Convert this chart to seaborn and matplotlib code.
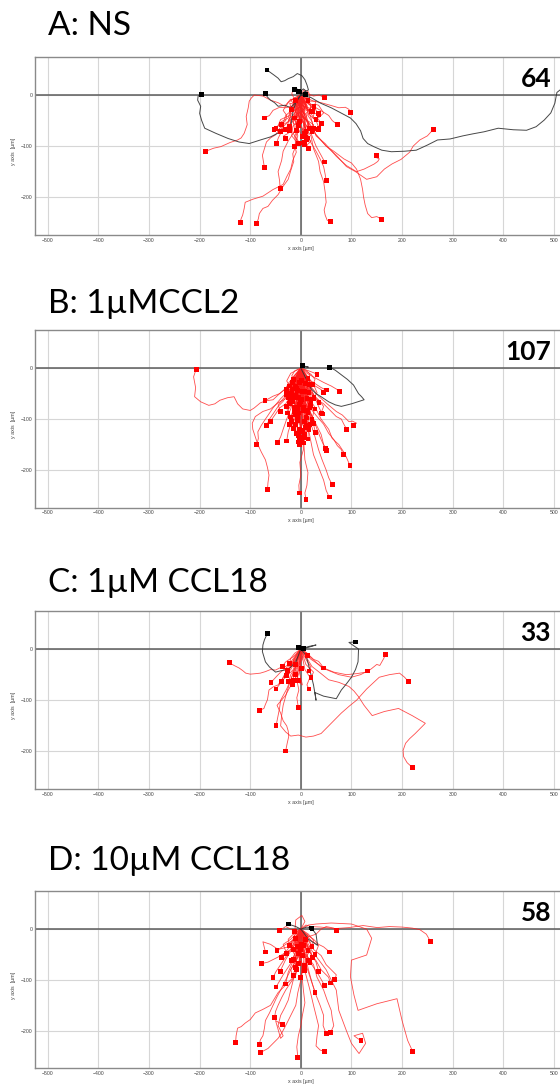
import matplotlib
matplotlib.use("Agg")
import matplotlib.pyplot as plt
import seaborn as sns
import pandas as pd

# ---------------------------------------------------------------- settings
FIG_W, FIG_H, DPI = 560, 1086, 100

panel_titles = ["A: NS", "B: 1µMCCL2", "C: 1µM CCL18", "D: 10µM CCL18"]
x_ticks = [-500, -400, -300, -200, -100, 0, 100, 200, 300, 400, 500]
y_ticks = [-200, -100, 0]
x_limits = (-526, 545)
y_limits = (-274, 75)

# Each track starts at the origin; the listed points follow it to its end (µm).
tracks_ns = [
    [(-8, -12), (-20, -8), (-32, -22), (-45, -15), (-60, -10), (-75, -2), (-92, 0), (-98, -6), (-102, -12), (-104, -25),
     (-108, -42), (-106, -58), (-112, -75), (-118, -84), (-125, -88), (-140, -93), (-158, -101), (-172, -104), (-188, -110)],
    [(4, -15), (-6, -30), (-2, -48), (-10, -62), (-6, -80), (-12, -98), (-9, -112), (-16, -128), (-20, -145), (-28, -160),
     (-35, -175), (-55, -185), (-75, -198), (-95, -204), (-110, -210), (-112, -222), (-115, -235), (-118, -242), (-120, -249)],
    [(-6, -14), (3, -30), (-8, -46), (-4, -62), (-12, -80), (-10, -100), (-16, -115), (-14, -130), (-20, -148), (-25, -165),
     (-36, -180), (-45, -195), (-56, -206), (-65, -218), (-75, -222), (-82, -232), (-84, -242), (-87, -251)],
    [(-8, -18), (-4, -36), (-15, -52), (-12, -70), (-25, -90), (-35, -110), (-38, -128), (-45, -150), (-42, -168), (-41, -183)],
    [(-10, -12), (-18, -30), (-30, -40), (-35, -55), (-50, -78), (-60, -84), (-68, -92), (-72, -105), (-76, -118), (-74, -130), (-72, -142)],
    [(-6, -15), (-20, -30), (-22, -50), (-35, -62), (-40, -75), (-45, -85), (-48, -95)],
    [(-8, -6), (-18, -22), (-30, -25), (-42, -24), (-55, -30), (-62, -40), (-72, -45)],
    [(8, -20), (4, -40), (20, -60), (28, -75), (50, -100), (70, -118), (90, -140), (108, -150), (130, -165), (150, -160),
     (165, -145), (180, -135), (198, -126), (215, -112), (222, -100), (235, -88), (250, -80), (262, -67)],
    [(10, -15), (6, -35), (15, -60), (30, -78), (50, -100), (65, -110), (85, -125), (100, -133), (110, -145), (118, -165),
     (122, -185), (124, -200), (127, -215), (132, -232), (140, -240), (150, -238), (160, -243)],
    [(12, -20), (20, -45), (30, -80), (48, -95), (70, -120), (90, -138), (110, -150), (125, -145), (145, -135), (152, -130),
     (155, -125), (148, -122), (149, -118)],
    [(-4, -20), (8, -40), (6, -60), (20, -80), (25, -105), (35, -130), (38, -150), (45, -170), (48, -190), (50, -210),
     (46, -225), (48, -235), (52, -245), (58, -248)],
    [(6, -18), (0, -40), (10, -70), (18, -90), (30, -110), (38, -125), (45, -140), (48, -155), (50, -167)],
    [(-4, -20), (8, -40), (15, -60), (22, -80), (30, -100), (40, -118), (47, -131)],
    [(10, -8), (22, -20), (30, -25), (42, -32), (55, -40), (62, -50), (72, -58)],
    [(12, -6), (25, -12), (40, -15), (58, -20), (75, -25), (88, -24), (95, -28), (98, -34)],
    [(10, 4), (25, -2), (36, 0), (46, -5)],
    [(6, -8), (-4, -20), (-20, -28), (-25, -45), (-38, -52), (-49, -66)],
    [(-6, -6), (-2, -22), (-18, -35), (-25, -52), (-35, -58), (-41, -71)],
    [(4, -10), (-8, -18), (-12, -35), (-24, -48), (-26, -60), (-31, -68)],
    [(-6, -6), (2, -20), (-10, -30), (-13, -45)],
    [(-4, -10), (8, -16), (12, -28), (23, -32)],
    [(6, -8), (2, -20), (18, -26), (25, -35), (36, -39)],
    [(-6, -12), (6, -25), (2, -40), (14, -52), (16, -65)],
    [(5, -10), (-3, -25), (10, -38), (15, -55), (23, -68)],
    [(8, -12), (20, -20), (16, -38), (30, -50), (36, -65)],
    [(-5, -12), (4, -28), (-4, -45), (8, -58), (10, -71)],
    [(3, -15), (-8, -30), (-2, -50), (-6, -65), (3, -81)],
    [(-4, -18), (8, -32), (4, -50), (16, -66), (13, -84)],
    [(-8, -10), (0, -30), (-12, -48), (-6, -70), (-10, -82), (-3, -94)],
    [(6, -14), (-4, -32), (8, -50), (2, -72), (12, -84), (7, -97)],
    [(-4, -12), (-18, -22), (-22, -40), (-40, -48), (-45, -60), (-53, -67)],
    [(4, -8), (-10, -20), (-8, -40), (-22, -50), (-18, -60), (-23, -69)],
    [(-6, -8), (-14, -25), (-8, -38), (-20, -48), (-22, -62)],
    [(8, -15), (14, -32), (2, -45), (10, -60), (7, -75)],
    [(-3, -20), (6, -35), (-6, -52), (4, -68), (9, -82)],
    [(7, -18), (-2, -35), (10, -52), (4, -70), (11, -88)],
    [(10, -8), (20, -22), (14, -40), (22, -52), (25, -65)],
    [(12, -15), (28, -28), (24, -45), (40, -55), (35, -67)],
    [(2, -18), (14, -30), (10, -48), (25, -58), (22, -72)],
    [(-5, -20), (-14, -40), (-6, -58), (-15, -75), (-8, -88), (-4, -95)],
    [(10, -20), (0, -38), (16, -55), (4, -72), (12, -82), (7, -92)],
    [(8, -5), (16, -18), (26, -20), (30, -30), (35, -36)],
    [(-3, -8), (10, -14), (8, -25), (21, -33)],
    [(10, -2), (18, -12), (30, -12), (26, -23)],
    [(-6, -4), (-14, -18), (-22, -16), (-18, -29)],
    [(-8, 8), (-15, 12), (-18, 2), (-11, -10)],
    [(6, 10), (15, 6), (18, -2), (14, -10)],
    [(-20, -10), (-10, -22), (-5, -35), (-18, -44), (-15, -55), (-5, -62), (-8, -70)],
    [(12, -20), (2, -32), (-5, -50), (-16, -62), (-18, -80), (-8, -92), (-12, -100)],
    [(-12, -30), (-2, -42), (8, -60), (4, -75), (20, -90), (12, -98), (15, -105)],
    [(5, -20), (-5, -30), (-10, -45), (-22, -58), (-25, -75), (-34, -80), (-30, -85)],
    [(-3, -10), (10, -30), (18, -32), (28, -50), (35, -48), (40, -55)],
    [(-12, -5), (-25, -15), (-35, -30), (-28, -40), (-30, -50), (-38, -58)],
    [(15, -30), (28, -18), (35, -20), (45, -35), (38, -42), (30, -48)],
    [(-8, -15), (-2, -35), (-12, -50), (-5, -60)],
    [(6, -10), (-6, -25), (4, -40), (-2, -52)],
    [(-8, -10), (-15, -30), (-20, -60), (-40, -72), (-60, -82), (-80, -88), (-102, -95), (-122, -92), (-144, -85),
     (-168, -75), (-190, -65), (-196, -50), (-200, -36), (-198, -22), (-204, -10), (-203, -2), (-197, 1)],
    [(5, 5), (15, 10), (12, 20), (8, 30), (2, 38), (-7, 42), (-15, 36), (-25, 32), (-32, 28), (-39, 26), (-45, 33),
     (-53, 39), (-60, 44), (-67, 49)],
    [(-8, -12), (-20, -25), (-32, -20), (-45, -22), (-52, -15), (-60, -10), (-66, -4), (-70, 3)],
    [(20, -5), (39, -16), (60, -25), (81, -36), (98, -45), (109, -56), (118, -70), (123, -85), (132, -95), (144, -101),
     (160, -108), (179, -111), (205, -110), (228, -108), (250, -98), (270, -88), (295, -86), (320, -80), (340, -76),
     (362, -72), (390, -65), (420, -68), (446, -69), (465, -62), (481, -49), (494, -35), (502, -16), (506, 5), (525, 20)],
    [(-5, 8), (-13, 11)],
    [(6, 4), (9, 1)],
    [(-8, 12), (-4, 7)],
    [(10, 8), (5, 12), (-2, 6)],
]

tracks_ccl2 = [
    [(-8, -15), (-20, -28), (-30, -40), (-42, -50), (-55, -62), (-68, -64), (-80, -68), (-92, -78), (-100, -83), (-115, -80),
     (-125, -70), (-132, -56), (-145, -58), (-160, -63), (-170, -70), (-182, -73), (-198, -66), (-210, -56), (-208, -38),
     (-212, -17), (-207, -2)],
    [(-8, -20), (-20, -40), (-30, -60), (-45, -68), (-60, -80), (-75, -85), (-90, -95), (-96, -108), (-95, -120), (-90, -135),
     (-85, -150), (-78, -165), (-70, -180), (-66, -195), (-63, -210), (-65, -225), (-66, -239)],
    [(-10, -30), (-25, -45), (-40, -60), (-55, -78), (-70, -100), (-78, -112), (-85, -125), (-84, -138), (-87, -150)],
    [(-10, -25), (-22, -45), (-35, -65), (-45, -75), (-55, -90), (-62, -100), (-68, -113)],
    [(-6, -28), (-18, -50), (-30, -70), (-42, -78), (-50, -90), (-60, -104)],
    [(-5, -30), (-12, -55), (-20, -80), (-28, -100), (-35, -120), (-40, -135), (-46, -146)],
    [(4, -30), (-8, -60), (-15, -90), (-20, -110), (-25, -125), (-28, -143)],
    [(-10, -70), (-20, -95), (-22, -110)],
    [(-15, -60), (-28, -75), (-26, -88)],
    [(-12, -20), (-30, -40), (-42, -50), (-55, -55), (-71, -64)],
    [(-15, -30), (-25, -45), (-29, -52)],
    [(-10, -25), (-22, -35), (-28, -42)],
    [(4, -20), (-3, -45), (3, -70), (-2, -100), (4, -130), (5, -160), (-2, -185), (0, -210), (-4, -230), (-3, -245)],
    [(-3, -25), (5, -55), (2, -90), (8, -120), (6, -150), (8, -180), (14, -205), (12, -230), (8, -245), (10, -258)],
    [(5, -80), (8, -115), (6, -137)],
    [(10, -90), (15, -120), (14, -139)],
    [(15, -80), (25, -110), (29, -127)],
    [(10, -70), (22, -95), (26, -109)],
    [(5, -70), (12, -100), (9, -116)],
    [(6, -30), (20, -90), (30, -110), (40, -130), (45, -150), (49, -157)],
    [(-4, -40), (25, -100), (32, -120), (40, -140), (50, -162)],
    [(6, -20), (4, -50), (20, -80), (32, -95), (45, -110), (55, -128), (65, -140), (72, -152), (80, -160), (84, -170)],
    [(-4, -25), (10, -50), (30, -80), (40, -100), (55, -120), (62, -138), (75, -150), (85, -165), (90, -175), (97, -191)],
    [(8, -30), (2, -60), (15, -90), (20, -110), (28, -135), (35, -160), (42, -180), (50, -200), (55, -215), (62, -229)],
    [(-6, -35), (4, -70), (10, -100), (15, -120), (20, -145), (25, -170), (35, -195), (45, -220), (50, -240), (56, -253)],
    [(10, -25), (30, -60), (45, -70), (60, -85), (70, -95), (80, -100), (85, -110), (91, -121)],
    [(15, -30), (35, -55), (52, -70), (70, -85), (82, -92), (95, -105), (102, -104), (110, -108), (104, -112)],
    [(20, -40), (35, -75), (42, -90)],
    [(15, -5), (28, -10), (32, -12)],
    [(20, -25), (40, -38), (50, -43)],
    [(12, -10), (30, -20), (45, -28), (60, -35), (77, -45)],
    [(20, -30), (40, -42), (45, -47)],
    [(15, -40), (30, -60), (36, -67)],
    [(10, -35), (20, -50), (26, -60)],
    [(5, -45), (15, -65), (19, -73)],
    [(-5, -50), (-3, -70), (-7, -80)],
    [(-5, -30), (-8, -45), (-10, -54)],
    [(-8, -20), (-15, -35), (-17, -41)],
    [(10, -20), (20, -40), (30, -50), (40, -56), (55, -66), (68, -72), (80, -75), (100, -70), (125, -62), (120, -56),
     (114, -50), (104, -33), (92, -22), (80, -13), (68, -4), (57, 2)],
    [(8, 3), (15, 2), (3, 5)],
    [(-5, -10), (-12, -25), (-8, -40)],
    [(5, -12), (10, -28), (4, -45)],
    [(-10, -20), (-5, -40), (-15, -58)],
    [(8, -20), (2, -40), (12, -60)],
    [(-3, -25), (-10, -50), (-2, -72)],
    [(4, -30), (12, -55), (5, -78)],
    [(-12, -15), (-20, -35), (-14, -55), (-22, -70)],
    [(10, -15), (18, -35), (12, -52), (20, -68)],
    [(0, -20), (-8, -45), (0, -70), (-6, -95)],
    [(3, -25), (10, -50), (4, -75), (12, -98)],
    [(-6, -30), (-15, -60), (-10, -90), (-18, -105)],
    [(6, -35), (16, -65), (10, -92), (18, -110)],
    [(-2, -40), (5, -70), (-4, -100), (2, -125)],
    [(2, -45), (-6, -80), (3, -110), (-5, -132)],
    [(-8, -12), (-3, -28), (-10, -35)],
    [(7, -8), (3, -22), (9, -30)],
    [(-15, -25), (-25, -40), (-18, -50)],
    [(15, -20), (22, -35), (16, -48)],
    [(-4, -15), (2, -35), (-6, -50), (1, -62)],
    [(5, -18), (-2, -38), (6, -55), (-1, -66)],
    [(-10, -35), (-20, -62), (-12, -85)],
    [(10, -40), (20, -65), (14, -88)],
    [(-5, -50), (-12, -80), (-20, -100), (-14, -118)],
    [(5, -55), (14, -85), (22, -100), (16, -120)],
    [(0, -15), (-6, -30), (2, -48), (-4, -58)],
    [(-2, -8), (4, -20), (-3, -28)],
    [(3, -10), (-4, -18), (2, -24)],
    [(-18, -20), (-10, -38), (-24, -52), (-16, -66)],
    [(18, -25), (10, -45), (24, -60), (18, -78)],
    [(-6, -60), (2, -90), (-8, -115), (-2, -138)],
    [(6, -62), (-2, -95), (8, -120), (2, -142)],
    [(-14, -40), (-6, -60), (-16, -78), (-10, -92)],
    [(14, -42), (6, -62), (16, -82), (10, -96)],
    [(-1, -30), (8, -48), (-2, -66), (6, -84)],
    [(1, -32), (-8, -52), (2, -70), (-5, -88)],
    [(-20, -10), (-28, -25), (-22, -35)],
    [(20, -12), (28, -22), (24, -32)],
    [(-9, -45), (-18, -70), (-25, -82), (-20, -96)],
    [(9, -48), (18, -72), (26, -84), (22, -100)],
    [(-3, -70), (4, -100), (-3, -120), (4, -135)],
    [(-12, -5), (-18, -15), (-14, -22)],
    [(12, -5), (18, -12), (14, -20)],
    [(-7, -22), (-14, -45), (-6, -62), (-12, -78)],
    [(7, -24), (14, -46), (6, -64), (14, -82)],
    [(0, -50), (-10, -75), (-3, -98), (-10, -110)],
    [(0, -52), (10, -78), (4, -100), (11, -112)],
    [(-25, -30), (-32, -45), (-24, -58)],
    [(25, -32), (32, -48), (26, -58)],
    [(-4, -35), (-12, -52), (-20, -60)],
    [(4, -36), (12, -54), (20, -62)],
    [(-6, -80), (-14, -105), (-8, -128)],
    [(6, -82), (14, -108), (8, -130)],
    [(-2, -18), (-9, -40), (-16, -28)],
    [(2, -20), (9, -42), (16, -32)],
    [(-11, -50), (-4, -72), (-12, -90), (-7, -102)],
    [(11, -52), (4, -74), (12, -92), (7, -104)],
    [(-3, -40), (3, -62), (-4, -85), (0, -108), (-3, -120)],
    [(3, -42), (-3, -64), (4, -88), (0, -110), (3, -123)],
    [(-16, -30), (-8, -55), (-18, -72), (-28, -76)],
    [(16, -32), (8, -57), (18, -74), (28, -80)],
    [(-1, -10), (-6, -22), (-1, -34), (-7, -44)],
    [(1, -12), (6, -24), (1, -36), (7, -46)],
    [(-10, -65), (-2, -92), (-12, -118), (-5, -145)],
    [(10, -66), (2, -94), (12, -120), (5, -147)],
    [(-20, -45), (-35, -60), (-45, -72), (-40, -85)],
    [(20, -48), (35, -62), (45, -75), (40, -88)],
    [(-4, -55), (4, -80), (-4, -105), (4, -130), (-2, -150)],
]

tracks_ccl18_1 = [
    [(-10, -12), (-22, -28), (-30, -34), (-40, -36), (-50, -41), (-60, -40), (-70, -44), (-80, -47), (-89, -48), (-100, -49),
     (-109, -47), (-115, -42), (-122, -37), (-132, -32), (-141, -27)],
    [(-8, -18), (-20, -40), (-32, -52), (-45, -70), (-55, -74), (-63, -80), (-66, -99), (-70, -108), (-73, -116), (-82, -120)],
    [(-6, -25), (-20, -60), (-28, -78), (-40, -100), (-42, -115), (-45, -130), (-49, -150)],
    [(-10, -30), (-10, -60), (-22, -75), (-30, -90), (-47, -110), (-40, -125), (-35, -140), (-28, -150), (-25, -160),
     (-24, -171), (-27, -184), (-30, -199)],
    [(-2, -40), (-8, -60), (-4, -80), (-8, -95), (-5, -114)],
    [(10, -15), (22, -34), (40, -48), (55, -60), (75, -65), (95, -73), (105, -82), (114, -93), (125, -110), (141, -130),
     (165, -122), (193, -116), (220, -130), (246, -145), (236, -155), (226, -165), (215, -175), (207, -184), (202, -198),
     (203, -210), (210, -222), (220, -231)],
    [(-8, -25), (-20, -60), (-28, -85), (-35, -110), (-38, -130), (-40, -150), (-30, -162), (-20, -170), (-5, -168),
     (10, -172), (25, -170), (40, -165), (60, -145), (80, -125), (95, -112), (110, -100), (130, -78), (155, -55),
     (175, -50), (195, -47), (205, -55), (212, -63)],
    [(15, -12), (40, -35), (65, -45), (90, -50), (110, -48), (130, -45), (140, -38), (150, -30), (156, -32), (160, -25),
     (164, -18), (167, -10)],
    [(20, -20), (50, -40), (75, -50), (100, -55), (118, -50), (132, -43)],
    [(12, -8), (25, -20), (35, -24), (40, -30), (45, -37)],
    [(10, -20), (20, -35), (16, -43)],
    [(10, -30), (25, -45), (20, -56)],
    [(8, -5), (15, -10), (13, -12)],
    [(-20, -30), (-40, -45), (-59, -65)],
    [(-15, -40), (-35, -60), (-49, -78)],
    [(-15, -25), (-30, -45), (-39, -63)],
    [(-15, -15), (-30, -25), (-37, -34)],
    [(-10, -20), (-20, -35), (-27, -42)],
    [(-5, -30), (-15, -50), (-14, -62)],
    [(0, -30), (-8, -50), (-4, -62)],
    [(-10, -35), (-20, -50), (-24, -63)],
    [(-5, -40), (-12, -60), (-17, -70)],
    [(-8, -10), (-15, -22), (-10, -30)],
    [(5, -12), (-3, -25), (2, -38)],
    [(-12, -8), (-20, -18), (-22, -28)],
    [(3, -20), (-6, -35), (-10, -50)],
    [(-5, -15), (-18, -30), (-28, -52)],
    [(-3, -45), (3, -70), (-8, -62)],
    [(8, -40), (18, -55), (12, -70), (16, -78)],
    [(-10, -25), (-25, -40), (-38, -42), (-50, -45), (-62, -35), (-70, -25), (-76, -5), (-75, 8), (-72, 18), (-66, 31)],
    [(10, -12), (15, -30), (20, -50), (25, -70), (30, -100), (28, -85), (45, -92), (70, -97), (80, -80), (90, -68),
     (100, -55), (108, -40), (113, -25), (114, 0), (95, 13), (108, 14)],
    [(15, 5), (30, 8), (10, 2), (6, 1)],
    [(-3, 2), (-5, 3)],
]

tracks_ccl18_10 = [
    [(10, 8), (20, 5), (39, 4), (67, 1), (95, 3), (123, 7), (151, 3), (175, 5), (200, 4), (220, 2), (235, -1), (248, -10), (256, -24)],
    [(15, 8), (30, 10), (60, 12), (100, 10), (130, 0), (140, -18), (130, -51), (100, -61), (98, -94), (105, -130), (113, -160),
     (150, -147), (190, -137), (200, -180), (211, -219), (221, -241)],
    [(20, -40), (50, -80), (70, -120), (75, -160), (90, -200), (100, -225), (115, -245), (128, -225), (122, -205), (105, -210), (119, -220)],
    [(-6, -20), (4, -40), (-10, -60), (-20, -80), (-15, -95), (-30, -110), (-45, -125), (-60, -150), (-75, -158), (-90, -165),
     (-100, -178), (-110, -185), (-118, -192), (-125, -195), (-128, -210), (-129, -224)],
    [(-10, -30), (-5, -55), (-20, -80), (-30, -100), (-40, -120), (-48, -135), (-55, -150), (-62, -165), (-70, -180),
     (-72, -195), (-75, -210), (-80, -218), (-82, -227)],
    [(5, -25), (-5, -50), (2, -75), (0, -100), (-6, -125), (-10, -150), (-20, -170), (-30, -190), (-38, -205), (-45, -215),
     (-55, -225), (-65, -235), (-80, -243)],
    [(-4, -30), (6, -60), (2, -90), (5, -120), (8, -145), (3, -170), (0, -190), (-5, -210), (-8, -232), (-6, -252)],
    [(-6, -30), (-2, -60), (-10, -90), (-20, -105), (-30, -120), (-38, -135), (-45, -150), (-50, -162), (-52, -174)],
    [(-8, -30), (-2, -60), (-15, -100), (-20, -120), (-25, -140), (-32, -155), (-40, -170), (-45, -190), (-35, -210),
     (-40, -215), (-50, -180), (-37, -188)],
    [(8, -30), (0, -60), (10, -90), (18, -120), (25, -150), (30, -170), (35, -190), (32, -210), (30, -230), (38, -238), (47, -241)],
    [(-4, -25), (8, -50), (15, -80), (22, -105), (30, -130), (38, -150), (45, -170), (44, -190), (50, -206)],
    [(10, -20), (5, -45), (25, -70), (32, -95), (45, -120), (52, -140), (60, -160), (62, -175), (65, -190), (59, -203)],
    [(15, -15), (30, -10), (40, 0), (50, 5), (65, 2), (71, -3)],
    [(10, -10), (25, -20), (35, -30), (45, -35), (57, -45)],
    [(8, -20), (20, -50), (30, -62), (40, -80), (55, -95), (58, -106)],
    [(12, -18), (25, -40), (40, -52), (50, -70), (62, -82), (70, -90), (67, -100)],
    [(15, -60), (35, -90), (47, -111)],
    [(10, -70), (20, -100), (28, -125)],
    [(15, -40), (30, -65), (35, -83)],
    [(10, -25), (20, -45), (23, -56)],
    [(-20, -40), (-40, -70), (-50, -85), (-55, -96)],
    [(-15, -60), (-35, -90), (-49, -114)],
    [(-10, -50), (-25, -85), (-30, -108)],
    [(-5, -40), (-10, -70), (-15, -92)],
    [(-2, -45), (3, -75), (0, -96)],
    [(-15, -35), (-30, -60), (-41, -83)],
    [(-15, -25), (-30, -45), (-39, -56)],
    [(-10, -20), (-30, -30), (-47, -42)],
    [(-10, -5), (-30, 5), (-42, -3)],
    [(-5, -30), (-8, -55), (-11, -75)],
    [(0, -35), (-3, -55), (-4, -68)],
    [(3, -35), (10, -55), (7, -71)],
    [(-20, -40), (-45, -55), (-65, -65), (-78, -68)],
    [(8, 15), (2, 27), (-10, 18), (-12, -5)],
    [(-10, 5), (-25, 10)],
    [(15, -20), (33, -32), (30, -10), (22, 1)],
    [(12, 4), (20, 2)],
    [(-5, -10), (-12, -22), (-6, -35)],
    [(6, -8), (12, -20), (5, -32)],
    [(-10, -15), (-20, -25), (-15, -40)],
    [(10, -15), (20, -28), (14, -42)],
    [(-3, -20), (5, -35), (-4, -48)],
    [(3, -22), (-5, -38), (4, -52)],
    [(-15, -10), (-25, -20), (-22, -32)],
    [(15, -10), (25, -22), (22, -35)],
    [(-8, -25), (-18, -40), (-10, -55), (-18, -62)],
    [(8, -28), (18, -42), (10, -56), (18, -65)],
    [(0, -12), (-6, -24), (2, -30)],
    [(-2, -14), (6, -26), (-1, -40)],
    [(-20, -20), (-35, -30), (-28, -48)],
    [(20, -22), (35, -32), (28, -50)],
    [(-5, -35), (-15, -55), (-8, -80)],
    [(5, -38), (15, -58), (8, -82)],
    [(-12, -30), (-5, -48), (-14, -60)],
    [(12, -32), (5, -50), (14, -62)],
    [(-6, -5), (-14, -10), (-10, -18)],
    [(6, -5), (14, -12), (9, -20)],
    [(-25, -35), (-45, -40), (-60, -30), (-75, -25), (-70, -45)],
]

panel_tracks = [tracks_ns, tracks_ccl2, tracks_ccl18_1, tracks_ccl18_10]

# pixel layout of the four axes (top, bottom) and the title baselines
axes_top_px = [56.7, 330.0, 610.7, 891.0]
axes_bottom_px = [235.0, 507.7, 789.3, 1068.3]
title_base_px = [35, 313, 592, 870]
AX_LEFT_PX = 34.7
PX_PER_UM_X = 0.506

RED_LINE = "#ff1f1f"
RED_END = "#ff0000"
DARK_LINE = "#333333"
DARK_END = "#000000"

sns.set_theme(style="white")
plt.rcParams["font.family"] = ["Liberation Sans", "DejaVu Sans"]


def tracks_frame(tracks):
    rows = []
    for tid, pts in enumerate(tracks):
        path = [(0.0, 0.0)] + list(pts)
        direction = "up" if path[-1][1] > 0 else "down"
        for step, (x, y) in enumerate(path):
            rows.append({"track": tid, "step": step, "x": x, "y": y, "dir": direction})
    return pd.DataFrame(rows)


fig = plt.figure(figsize=(FIG_W / DPI, FIG_H / DPI), dpi=DPI)
ax_w_px = (x_limits[1] - x_limits[0]) * PX_PER_UM_X

for i, tracks in enumerate(panel_tracks):
    top, bottom = axes_top_px[i], axes_bottom_px[i]
    ax = fig.add_axes([AX_LEFT_PX / FIG_W, 1 - bottom / FIG_H,
                       ax_w_px / FIG_W, (bottom - top) / FIG_H])
    df = tracks_frame(tracks)
    ends = df.groupby("track").tail(1)

    ax.grid(True, color="#d6d6d6", lw=0.8)
    ax.set_axisbelow(True)
    ax.axhline(0, color="#5c5c5c", lw=1.1, zorder=1.5)
    ax.axvline(0, color="#5c5c5c", lw=1.1, zorder=1.5)

    for direction, colour, lw, alpha in [("down", RED_LINE, 0.6, 0.8), ("up", DARK_LINE, 0.7, 0.9)]:
        sub = df[df["dir"] == direction]
        if len(sub):
            sns.lineplot(data=sub, x="x", y="y", units="track", estimator=None, sort=False,
                         color=colour, lw=lw, alpha=alpha, ax=ax, legend=False, zorder=3)
    sns.scatterplot(data=ends, x="x", y="y", hue="dir",
                    palette={"down": RED_END, "up": DARK_END},
                    marker="s", s=12, linewidth=0, ax=ax, legend=False, zorder=5)

    ax.set_xlim(*x_limits)
    ax.set_ylim(*y_limits)
    ax.set_xticks(x_ticks)
    ax.set_yticks(y_ticks)
    ax.tick_params(axis="both", length=0, pad=1.8, labelsize=3.7, labelcolor="#444444")
    for side in ["left", "bottom", "top", "right"]:
        ax.spines[side].set_color("#8a8a8a")
        ax.spines[side].set_linewidth(1.0)

    ax.set_xlabel("x axis [µm]", fontsize=3.8, color="#444444")
    ax.set_ylabel("y axis  [µm]", fontsize=3.8, color="#444444")
    ax.xaxis.set_label_coords((0 - x_limits[0]) / (x_limits[1] - x_limits[0]),
                              -10.5 / (bottom - top))
    ax.yaxis.set_label_coords((16 - AX_LEFT_PX) / ax_w_px, 0.47)

    fig.text(48 / FIG_W, 1 - title_base_px[i] / FIG_H, panel_titles[i],
             fontsize=24, family=["Lato", "DejaVu Sans"], va="baseline", ha="left", color="black")
    fig.text(551 / FIG_W, 1 - (top + 30) / FIG_H, str(len(tracks)),
             fontsize=19, family=["Lato", "DejaVu Sans"], weight="bold",
             va="baseline", ha="right", color="black")

fig.savefig("out.png", dpi=DPI)
